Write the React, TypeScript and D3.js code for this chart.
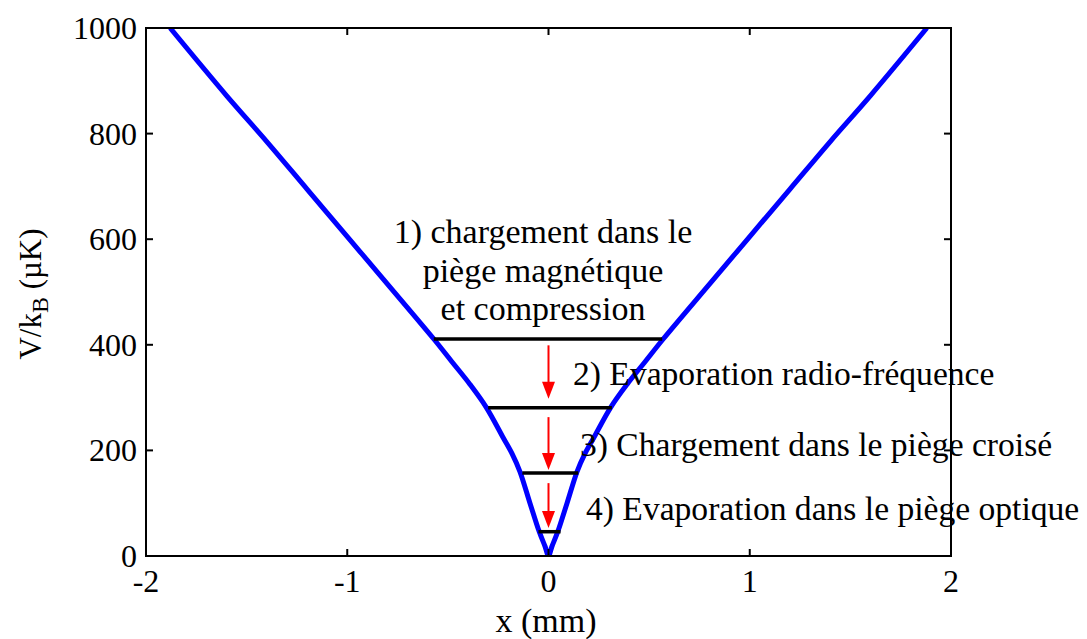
import React from 'react';
import * as d3 from 'd3';

// potential curve (x in mm, V/kB in µK)
const curveX = [
  -1.88, -1.6, -1.4, -1.2, -1.0, -0.8, -0.57, -0.48, -0.39, -0.31, -0.225, -0.18, -0.142, -0.092, -0.046, -0.017,
  0,
  0.017, 0.046, 0.092, 0.142, 0.18, 0.225, 0.31, 0.39, 0.48, 0.57, 0.8, 1.0, 1.2, 1.4, 1.6, 1.88,
];
const curveV = [
  1000, 872, 785, 695, 605, 515, 411, 368, 325, 282, 224, 193, 160, 100, 46, 18,
  0,
  18, 46, 100, 160, 193, 224, 282, 325, 368, 411, 515, 605, 695, 785, 872, 1000,
];

// energy levels (black bars)
const levelV = [411, 281, 157, 46];
const levelLeft = [-0.57, -0.3, -0.13, -0.05];
const levelRight = [0.565, 0.315, 0.148, 0.06];

// red arrows between levels
const arrowFrom = [399, 263, 138];
const arrowTo = [298, 163, 53];

const xTicks = [-2, -1, 0, 1, 2];
const yTicks = [0, 200, 400, 600, 800, 1000];

const stepLabels = [
  '2) Evaporation radio-fréquence',
  '3) Chargement dans le piège croisé',
  '4) Evaporation dans le piège optique',
];
const firstLabel = ['1) chargement dans le', 'piège magnétique', 'et compression'];

const W = 1087;
const H = 639;
const margin = { top: 28, right: 136, bottom: 83, left: 146 };
const font = '"Liberation Serif", "Times New Roman", serif';

const App: React.FC = () => {
  const x = d3.scaleLinear().domain([-2, 2]).range([margin.left, W - margin.right]);
  const y = d3.scaleLinear().domain([0, 1000]).range([H - margin.bottom, margin.top]);

  const pts: [number, number][] = curveX.map((v, i) => [v, curveV[i]]);
  const line = d3
    .line<[number, number]>()
    .x((d) => x(d[0]))
    .y((d) => y(d[1]))
    .curve(d3.curveCatmullRom.alpha(0.5));

  const x0 = margin.left;
  const x1 = W - margin.right;
  const y0 = H - margin.bottom;
  const y1 = margin.top;
  const tk = 7;

  return (
    <svg
      width={W}
      height={H}
      style={{ position: 'absolute', left: 0, top: 0, background: '#fff' }}
      fontFamily={font}
    >
      <defs>
        <clipPath id="plot">
          <rect x={x0} y={y1} width={x1 - x0} height={y0 - y1} />
        </clipPath>
      </defs>

      {/* curve */}
      <path d={line(pts) ?? ''} fill="none" stroke="#0000ff" strokeWidth={5} strokeLinejoin="round" clipPath="url(#plot)" />

      {/* levels */}
      {levelV.map((v, i) => (
        <line key={'l' + i} x1={x(levelLeft[i])} x2={x(levelRight[i])} y1={y(v)} y2={y(v)} stroke="#000" strokeWidth={3.5} />
      ))}

      {/* arrows */}
      {arrowFrom.map((v, i) => {
        const ax = x(0);
        const ya = y(v);
        const yb = y(arrowTo[i]);
        return (
          <g key={'a' + i}>
            <line x1={ax} x2={ax} y1={ya} y2={yb - 14} stroke="#ff0000" strokeWidth={2} />
            <path d={`M${ax - 6.5},${yb - 17} L${ax + 6.5},${yb - 17} L${ax},${yb} Z`} fill="#ff0000" />
          </g>
        );
      })}

      {/* frame and ticks */}
      <rect x={x0} y={y1} width={x1 - x0} height={y0 - y1} fill="none" stroke="#000" strokeWidth={2} />
      {xTicks.map((t) => (
        <g key={'xt' + t}>
          <line x1={x(t)} x2={x(t)} y1={y0} y2={y0 - tk} stroke="#000" strokeWidth={2} />
          <line x1={x(t)} x2={x(t)} y1={y1} y2={y1 + tk} stroke="#000" strokeWidth={2} />
          <text x={x(t)} y={592} fontSize={32} textAnchor="middle" fill="#000">
            {t}
          </text>
        </g>
      ))}
      {yTicks.map((t) => (
        <g key={'yt' + t}>
          <line x1={x0} x2={x0 + tk} y1={y(t)} y2={y(t)} stroke="#000" strokeWidth={2} />
          <line x1={x1} x2={x1 - tk} y1={y(t)} y2={y(t)} stroke="#000" strokeWidth={2} />
          <text x={137} y={y(t) + 11} fontSize={32} textAnchor="end" fill="#000">
            {t}
          </text>
        </g>
      ))}

      {/* axis labels */}
      <text x={546} y={632} fontSize={34} textAnchor="middle" fill="#000">
        x (mm)
      </text>
      <text transform="translate(41,294) rotate(-90)" fontSize={31} textAnchor="middle" fill="#000">
        V/k<tspan baselineShift="-30%" fontSize={24}>B</tspan> (µK)
      </text>

      {/* annotations */}
      {firstLabel.map((s, i) => (
        <text key={'f' + i} x={543} y={243 + i * 38.5} fontSize={34} textAnchor="middle" fill="#000">
          {s}
        </text>
      ))}
      {stepLabels.map((s, i) => (
        <text key={'s' + i} x={[573, 580, 586][i]} y={[385, 456, 520][i]} fontSize={33.6} fill="#000">
          {s}
        </text>
      ))}
    </svg>
  );
};

export default App;
